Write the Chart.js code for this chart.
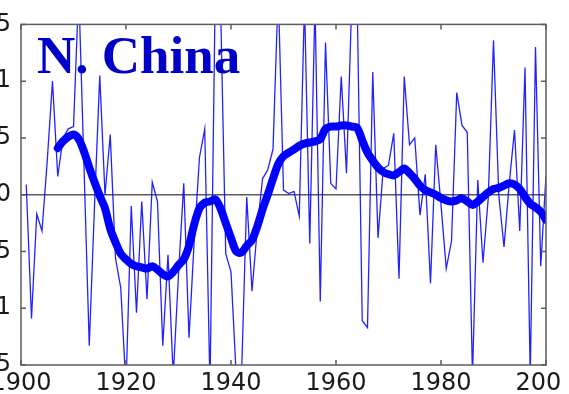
<!DOCTYPE html>
<html lang="en">
<head>
  <meta charset="UTF-8" />
  <title>N. China</title>
  <script src="https://cdn.jsdelivr.net/npm/chart.js"></script>
  <style>
    body { margin: 0; background: #fff; }
    #wrap { position: relative; width: 569px; height: 394px; overflow: hidden; background: #fff; }
    #clip { position: absolute; left: 0; top: 0; width: 561px; height: 394px; overflow: hidden; }
    #c { position: absolute; left: -60px; top: 0; }
    #title {
      position: absolute; left: 37px; top: 29px;
      font: bold 53px "Liberation Serif", "Times New Roman", serif;
      line-height: 53px; color: #0000c8; white-space: nowrap;
    }
  </style>
</head>
<body>
  <div id="wrap">
    <div id="clip">
      <canvas id="c" width="689" height="410"></canvas>
    </div>
    <div id="title">N. China</div>
  </div>

  <script>
    // annual values 1901-2000
    const annualStart = 1901;
    const annual = [
      0.09, -1.09, -0.17, -0.32, 0.3, 1.0, 0.16, 0.5, 0.58, 0.6,
      1.8, 0.25, -1.33, -0.1, 1.05, 0.0, 0.53, -0.56, -0.82, -1.7,
      -0.1, -1.04, -0.06, -0.92, 0.11, -0.06, -1.33, -0.53, -1.6, -0.7,
      0.1, -1.26, -0.4, 0.33, 0.58, -1.7, 1.8, 1.7, -0.52, -0.68,
      -1.6, -1.6, -0.02, -0.85, -0.3, 0.14, 0.22, 0.4, 1.8, 0.04,
      0.01, 0.03, -0.19, 1.7, -0.43, 1.7, -0.94, 1.34, 0.1, 0.05,
      1.04, 0.19, 1.7, 1.8, -1.11, -1.17, 1.08, -0.38, 0.23, 0.26,
      0.54, -0.74, 1.04, 0.44, 0.5, -0.18, 0.18, -0.78, 0.44, -0.09,
      -0.65, -0.41, 0.9, 0.61, 0.55, -1.6, 0.13, -0.6, -0.03, 1.36,
      0.0, -0.46, 0.1, 0.57, -0.32, 1.12, -1.6, 1.3, -0.63, 0.17
    ];

    // smoothed curve 1907-2000
    const smoothStart = 1907;
    const smooth = [
      0.41, 0.47, 0.51, 0.53, 0.49, 0.38, 0.24, 0.11, -0.01, -0.12,
      -0.3, -0.42, -0.52, -0.57, -0.61, -0.63, -0.64, -0.65, -0.63, -0.66,
      -0.7, -0.72, -0.68, -0.62, -0.57, -0.45, -0.26, -0.12, -0.07, -0.06,
      -0.04, -0.12, -0.25, -0.38, -0.5, -0.51, -0.45, -0.4, -0.28, -0.13,
      0.0, 0.14, 0.27, 0.34, 0.37, 0.4, 0.43, 0.45, 0.46, 0.47,
      0.49, 0.58, 0.6, 0.6, 0.61, 0.61, 0.6, 0.59, 0.48, 0.37,
      0.3, 0.24, 0.2, 0.18, 0.17, 0.2, 0.23, 0.19, 0.14, 0.08,
      0.04, 0.02, 0.0, -0.03, -0.05, -0.06, -0.05, -0.03, -0.06, -0.09,
      -0.06, -0.02, 0.02, 0.05, 0.06, 0.08, 0.1, 0.09, 0.05, -0.02,
      -0.08, -0.11, -0.15, -0.22
    ];

    const xTicks = [1900, 1920, 1940, 1960, 1980, 2000];
    const yTicks = [-1.5, -1, -0.5, 0, 0.5, 1, 1.5];

    const toPoints = (start, vals) => vals.map((v, i) => ({ x: start + i, y: v }));

    // box round the plot with inward tick marks on all four sides
    const frame = {
      id: 'frame',
      afterDatasetsDraw(chart) {
        const { ctx, chartArea: a, scales: { x, y } } = chart;
        ctx.save();
        ctx.strokeStyle = '#5c5c5c';
        ctx.lineWidth = 1.5;
        ctx.strokeRect(a.left, a.top, a.right - a.left, a.bottom - a.top);
        ctx.beginPath();
        x.ticks.forEach(t => {
          const px = x.getPixelForValue(t.value);
          ctx.moveTo(px, a.top); ctx.lineTo(px, a.top + 5);
          ctx.moveTo(px, a.bottom); ctx.lineTo(px, a.bottom - 5);
        });
        y.ticks.forEach(t => {
          const py = y.getPixelForValue(t.value);
          ctx.moveTo(a.left, py); ctx.lineTo(a.left + 5, py);
          ctx.moveTo(a.right, py); ctx.lineTo(a.right - 5, py);
        });
        ctx.stroke();
        ctx.restore();
      }
    };

    const tickFont = { family: '"DejaVu Sans", sans-serif', size: 24 };

    new Chart(document.getElementById('c'), {
      type: 'line',
      data: {
        datasets: [
          {
            data: toPoints(smoothStart, smooth),
            borderColor: '#0000ff',
            borderWidth: 8,
            pointRadius: 0,
            tension: 0.3,
            borderCapStyle: 'round',
            borderJoinStyle: 'round',
            order: 0
          },
          {
            data: toPoints(annualStart, annual),
            borderColor: 'rgba(10,10,255,0.9)',
            borderWidth: 1.3,
            pointRadius: 0,
            tension: 0,
            clip: 0,
            order: 1
          }
        ]
      },
      options: {
        responsive: false,
        devicePixelRatio: 1,
        animation: false,
        layout: { padding: { top: 22, right: 83, bottom: 0, left: 0 }, autoPadding: false },
        plugins: { legend: { display: false }, tooltip: { enabled: false } },
        scales: {
          x: {
            type: 'linear',
            min: 1900,
            max: 2000,
            afterBuildTicks: s => { s.ticks = xTicks.map(v => ({ value: v })); },
            afterFit: s => { s.height = 45; },
            grid: { display: false, drawTicks: false },
            border: { display: false },
            ticks: {
              autoSkip: false, maxRotation: 0, padding: 4,
              color: '#1a1a1a', font: tickFont,
              callback: v => String(v)
            }
          },
          y: {
            min: -1.5,
            max: 1.5,
            afterBuildTicks: s => { s.ticks = yTicks.map(v => ({ value: v })); },
            afterFit: s => { s.width = 81; },
            grid: {
              drawTicks: false,
              lineWidth: 1.5,
              color: c => (c.tick && c.tick.value === 0 ? '#5a5a5a' : 'rgba(0,0,0,0)')
            },
            border: { display: false },
            ticks: {
              padding: 10,
              color: '#1a1a1a', font: tickFont,
              callback: v => String(v)
            }
          }
        }
      },
      plugins: [frame]
    });
  </script>
</body>
</html>
